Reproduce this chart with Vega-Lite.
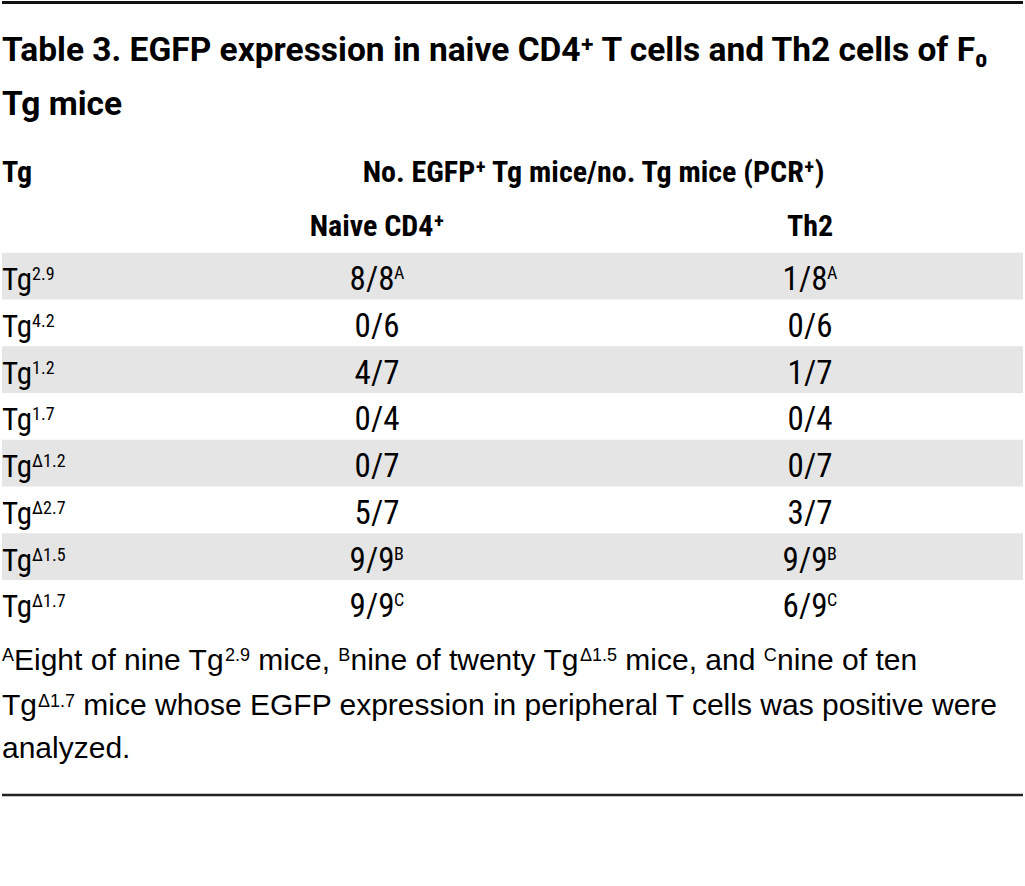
{
  "$schema": "https://vega.github.io/schema/vega-lite/v6.json",
  "width": 1025,
  "height": 886,
  "autosize": {"type": "fit", "contains": "padding"},
  "padding": 0,
  "background": "white",
  "config": {
    "view": {"stroke": null},
    "text": {"font": "Roboto Condensed, Roboto, Liberation Sans", "color": "#000000"}
  },
  "datasets": {
    "labels": [
      {"line": "r1", "col": "Tg", "name": "Tg", "sup": "2.9"},
      {"line": "r2", "col": "Tg", "name": "Tg", "sup": "4.2"},
      {"line": "r3", "col": "Tg", "name": "Tg", "sup": "1.2"},
      {"line": "r4", "col": "Tg", "name": "Tg", "sup": "1.7"},
      {"line": "r5", "col": "Tg", "name": "Tg", "sup": "Δ1.2"},
      {"line": "r6", "col": "Tg", "name": "Tg", "sup": "Δ2.7"},
      {"line": "r7", "col": "Tg", "name": "Tg", "sup": "Δ1.5"},
      {"line": "r8", "col": "Tg", "name": "Tg", "sup": "Δ1.7"}
    ],
    "cells": [
      {"line": "r1", "col": "Naive CD4⁺", "value": "8/8", "note": "A"},
      {"line": "r1", "col": "Th2", "value": "1/8", "note": "A"},
      {"line": "r2", "col": "Naive CD4⁺", "value": "0/6", "note": ""},
      {"line": "r2", "col": "Th2", "value": "0/6", "note": ""},
      {"line": "r3", "col": "Naive CD4⁺", "value": "4/7", "note": ""},
      {"line": "r3", "col": "Th2", "value": "1/7", "note": ""},
      {"line": "r4", "col": "Naive CD4⁺", "value": "0/4", "note": ""},
      {"line": "r4", "col": "Th2", "value": "0/4", "note": ""},
      {"line": "r5", "col": "Naive CD4⁺", "value": "0/7", "note": ""},
      {"line": "r5", "col": "Th2", "value": "0/7", "note": ""},
      {"line": "r6", "col": "Naive CD4⁺", "value": "5/7", "note": ""},
      {"line": "r6", "col": "Th2", "value": "3/7", "note": ""},
      {"line": "r7", "col": "Naive CD4⁺", "value": "9/9", "note": "B"},
      {"line": "r7", "col": "Th2", "value": "9/9", "note": "B"},
      {"line": "r8", "col": "Naive CD4⁺", "value": "9/9", "note": "C"},
      {"line": "r8", "col": "Th2", "value": "6/9", "note": "C"}
    ],
    "headers": [
      {"line": "h1", "col": "Tg", "text": "Tg"},
      {"line": "h1", "col": "Naive CD4⁺", "text": "No. EGFP⁺ Tg mice/no. Tg mice (PCR⁺)"},
      {"line": "h2", "col": "Naive CD4⁺", "text": "Naive CD4⁺"},
      {"line": "h2", "col": "Th2", "text": "Th2"}
    ]
  },
  "encoding": {
    "y": {
      "field": "line",
      "type": "nominal",
      "scale": {
        "domain": ["top", "t1", "t2", "h1", "h2", "r1", "r2", "r3", "r4", "r5", "r6", "r7", "r8", "f1", "f2", "f3", "bottom"],
        "paddingInner": 0,
        "paddingOuter": 0.966,
        "align": 0.199
      },
      "axis": null
    }
  },
  "layer": [
    {
      "data": {"name": "labels"},
      "transform": [{"filter": "indexof(['r1','r3','r5','r7'], datum.line) >= 0"}],
      "mark": {"type": "rect", "color": "#e5e5e5"},
      "encoding": {}
    },
    {
      "data": {"values": [{"line": "top"}]},
      "mark": {"type": "rule", "color": "#111111", "strokeWidth": 3},
      "encoding": {"y": {"field": "line", "type": "nominal", "bandPosition": -0.353, "axis": null}}
    },
    {
      "data": {"values": [{"line": "bottom"}]},
      "mark": {"type": "rule", "color": "#222222", "strokeWidth": 2.5},
      "encoding": {"y": {"field": "line", "type": "nominal", "bandPosition": 0.603, "axis": null}}
    },
    {
      "data": {"values": [{"line": "t1", "col": "Tg", "text": "Table 3. EGFP expression in naive CD4⁺ T cells and Th2 cells of F₀"}]},
      "mark": {"type": "text", "align": "left", "baseline": "alphabetic", "dy": -28, "dx": 58, "font": "Roboto, Liberation Sans", "fontWeight": "bold", "fontSize": 33.5},
      "encoding": {
        "x": {"field": "col", "type": "nominal", "scale": {"domain": ["Tg", "Naive CD4⁺", "Th2"], "range": [-274.5, 1024.5], "paddingInner": 0, "paddingOuter": 0}, "axis": null},
        "text": {"field": "text"}
      }
    },
    {
      "data": {"values": [{"line": "t2", "col": "Tg", "text": "Tg mice"}]},
      "mark": {"type": "text", "align": "left", "baseline": "alphabetic", "dy": -21, "dx": 58, "font": "Roboto, Liberation Sans", "fontWeight": "bold", "fontSize": 33.5},
      "encoding": {
        "x": {"field": "col", "type": "nominal", "axis": null},
        "text": {"field": "text"}
      }
    },
    {
      "data": {"name": "headers"},
      "transform": [{"filter": "datum.col === 'Tg'"}],
      "mark": {"type": "text", "align": "left", "baseline": "alphabetic", "dy": -1, "dx": 58, "fontWeight": "bold", "fontSize": 30},
      "encoding": {
        "x": {"field": "col", "type": "nominal", "axis": null},
        "text": {"field": "text"}
      }
    },
    {
      "data": {"name": "headers"},
      "transform": [{"filter": "datum.line === 'h1' && datum.col !== 'Tg'"}],
      "mark": {"type": "text", "align": "center", "baseline": "alphabetic", "dy": -1, "dx": 216.5, "fontWeight": "bold", "fontSize": 30},
      "encoding": {
        "x": {"field": "col", "type": "nominal", "axis": null},
        "text": {"field": "text"}
      }
    },
    {
      "data": {"name": "headers"},
      "transform": [{"filter": "datum.line === 'h2'"}],
      "mark": {"type": "text", "align": "center", "baseline": "alphabetic", "dy": 7, "fontWeight": "bold", "fontSize": 30},
      "encoding": {
        "x": {"field": "col", "type": "nominal", "axis": null},
        "text": {"field": "text"}
      }
    },
    {
      "data": {"name": "labels"},
      "mark": {"type": "text", "align": "left", "baseline": "alphabetic", "dy": 14, "dx": 58, "fontSize": 31},
      "encoding": {
        "x": {"field": "col", "type": "nominal", "axis": null},
        "text": {"field": "name"}
      }
    },
    {
      "data": {"name": "labels"},
      "mark": {"type": "text", "align": "left", "baseline": "alphabetic", "dy": 4, "dx": 88, "fontSize": 18},
      "encoding": {
        "x": {"field": "col", "type": "nominal", "axis": null},
        "text": {"field": "sup"}
      }
    },
    {
      "data": {"name": "cells"},
      "transform": [{"filter": "datum.note === ''"}],
      "mark": {"type": "text", "align": "center", "baseline": "alphabetic", "dy": 14, "fontSize": 33},
      "encoding": {
        "x": {"field": "col", "type": "nominal", "axis": null},
        "text": {"field": "value"}
      }
    },
    {
      "data": {"name": "cells"},
      "transform": [{"filter": "datum.note !== ''"}],
      "mark": {"type": "text", "align": "center", "baseline": "alphabetic", "dy": 14, "dx": -5, "fontSize": 33},
      "encoding": {
        "x": {"field": "col", "type": "nominal", "axis": null},
        "text": {"field": "value"}
      }
    },
    {
      "data": {"name": "cells"},
      "transform": [{"filter": "datum.note !== ''"}],
      "mark": {"type": "text", "align": "left", "baseline": "alphabetic", "dy": 3, "dx": 17, "fontSize": 18},
      "encoding": {
        "x": {"field": "col", "type": "nominal", "axis": null},
        "text": {"field": "note"}
      }
    },
    {
      "data": {"values": [{"line": "f1", "col": "Tg", "text": "A"}]},
      "mark": {"type": "text", "align": "left", "baseline": "alphabetic", "dy": 11.4, "dx": 58, "font": "Liberation Sans", "fontSize": 18},
      "encoding": {"x": {"field": "col", "type": "nominal", "axis": null}, "text": {"field": "text"}}
    },
    {
      "data": {"values": [{"line": "f1", "col": "Tg", "text": "Eight of nine Tg"}]},
      "mark": {"type": "text", "align": "left", "baseline": "alphabetic", "dy": 20, "dx": 70, "font": "Liberation Sans", "fontSize": 30},
      "encoding": {"x": {"field": "col", "type": "nominal", "axis": null}, "text": {"field": "text"}}
    },
    {
      "data": {"values": [{"line": "f1", "col": "Tg", "text": "2.9"}]},
      "mark": {"type": "text", "align": "left", "baseline": "alphabetic", "dy": 11.4, "dx": 281, "font": "Liberation Sans", "fontSize": 18},
      "encoding": {"x": {"field": "col", "type": "nominal", "axis": null}, "text": {"field": "text"}}
    },
    {
      "data": {"values": [{"line": "f1", "col": "Tg", "text": "mice,"}]},
      "mark": {"type": "text", "align": "left", "baseline": "alphabetic", "dy": 20, "dx": 314.3, "font": "Liberation Sans", "fontSize": 30},
      "encoding": {"x": {"field": "col", "type": "nominal", "axis": null}, "text": {"field": "text"}}
    },
    {
      "data": {"values": [{"line": "f1", "col": "Tg", "text": "B"}]},
      "mark": {"type": "text", "align": "left", "baseline": "alphabetic", "dy": 11.4, "dx": 394.3, "font": "Liberation Sans", "fontSize": 18},
      "encoding": {"x": {"field": "col", "type": "nominal", "axis": null}, "text": {"field": "text"}}
    },
    {
      "data": {"values": [{"line": "f1", "col": "Tg", "text": "nine of twenty Tg"}]},
      "mark": {"type": "text", "align": "left", "baseline": "alphabetic", "dy": 20, "dx": 406.5, "font": "Liberation Sans", "fontSize": 30},
      "encoding": {"x": {"field": "col", "type": "nominal", "axis": null}, "text": {"field": "text"}}
    },
    {
      "data": {"values": [{"line": "f1", "col": "Tg", "text": "Δ1.5"}]},
      "mark": {"type": "text", "align": "left", "baseline": "alphabetic", "dy": 11.4, "dx": 636, "font": "Liberation Sans", "fontSize": 18},
      "encoding": {"x": {"field": "col", "type": "nominal", "axis": null}, "text": {"field": "text"}}
    },
    {
      "data": {"values": [{"line": "f1", "col": "Tg", "text": "mice, and"}]},
      "mark": {"type": "text", "align": "left", "baseline": "alphabetic", "dy": 20, "dx": 681.3, "font": "Liberation Sans", "fontSize": 30},
      "encoding": {"x": {"field": "col", "type": "nominal", "axis": null}, "text": {"field": "text"}}
    },
    {
      "data": {"values": [{"line": "f1", "col": "Tg", "text": "C"}]},
      "mark": {"type": "text", "align": "left", "baseline": "alphabetic", "dy": 11.4, "dx": 819.7, "font": "Liberation Sans", "fontSize": 18},
      "encoding": {"x": {"field": "col", "type": "nominal", "axis": null}, "text": {"field": "text"}}
    },
    {
      "data": {"values": [{"line": "f1", "col": "Tg", "text": "nine of ten"}]},
      "mark": {"type": "text", "align": "left", "baseline": "alphabetic", "dy": 20, "dx": 833, "font": "Liberation Sans", "fontSize": 30},
      "encoding": {"x": {"field": "col", "type": "nominal", "axis": null}, "text": {"field": "text"}}
    },
    {
      "data": {"values": [{"line": "f2", "col": "Tg", "text": "Tg"}]},
      "mark": {"type": "text", "align": "left", "baseline": "alphabetic", "dy": 18.4, "dx": 58, "font": "Liberation Sans", "fontSize": 30},
      "encoding": {"x": {"field": "col", "type": "nominal", "axis": null}, "text": {"field": "text"}}
    },
    {
      "data": {"values": [{"line": "f2", "col": "Tg", "text": "Δ1.7"}]},
      "mark": {"type": "text", "align": "left", "baseline": "alphabetic", "dy": 9.8, "dx": 94, "font": "Liberation Sans", "fontSize": 18},
      "encoding": {"x": {"field": "col", "type": "nominal", "axis": null}, "text": {"field": "text"}}
    },
    {
      "data": {"values": [{"line": "f2", "col": "Tg", "text": "mice whose EGFP expression in peripheral T cells was positive were"}]},
      "mark": {"type": "text", "align": "left", "baseline": "alphabetic", "dy": 18.4, "dx": 139.3, "font": "Liberation Sans", "fontSize": 30},
      "encoding": {"x": {"field": "col", "type": "nominal", "axis": null}, "text": {"field": "text"}}
    },
    {
      "data": {"values": [{"line": "f3", "col": "Tg", "text": "analyzed."}]},
      "mark": {"type": "text", "align": "left", "baseline": "alphabetic", "dy": 14.6, "dx": 58, "font": "Liberation Sans", "fontSize": 30},
      "encoding": {"x": {"field": "col", "type": "nominal", "axis": null}, "text": {"field": "text"}}
    }
  ]
}
